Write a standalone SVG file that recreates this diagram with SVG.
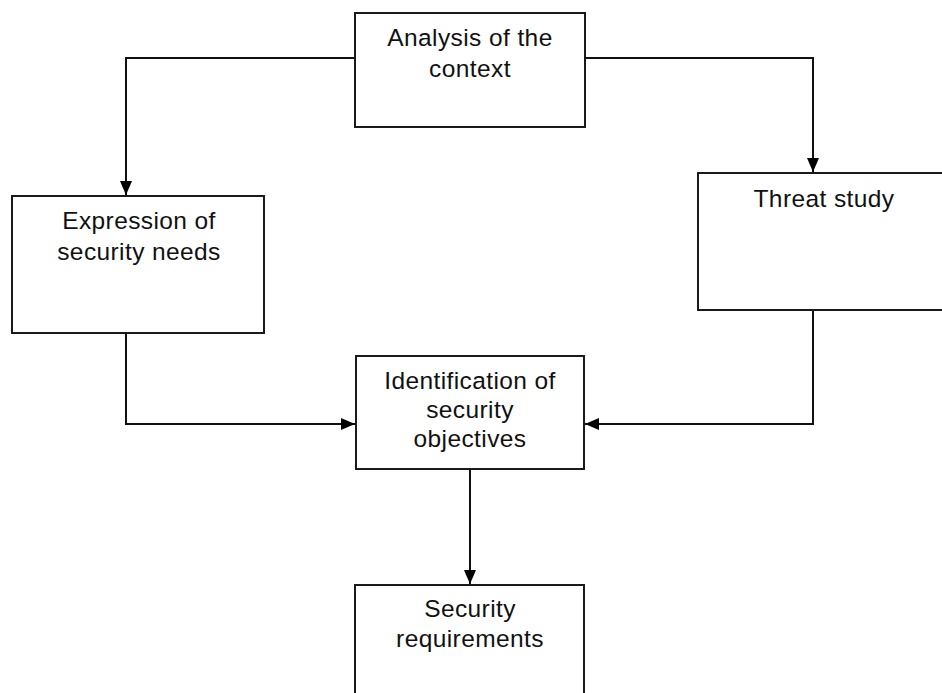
<svg xmlns="http://www.w3.org/2000/svg" width="942" height="693" viewBox="0 0 942 693">
  <style>
    .box { fill: #ffffff; stroke: #1a1a1a; stroke-width: 2; }
    .lbl { font-family: "Liberation Sans", Arial, sans-serif; font-size: 24.5px; fill: #111111; text-anchor: middle; letter-spacing: 0.4px; }
    .wire { fill: none; stroke: #111111; stroke-width: 2; }
  </style>
  <defs>
    <marker id="arrow" viewBox="0 0 14 12" refX="14" refY="6" markerWidth="14" markerHeight="12" markerUnits="userSpaceOnUse" orient="auto">
      <path d="M0,0 L14,6 L0,12 Z" fill="#000000"/>
    </marker>
  </defs>
  <rect width="942" height="693" fill="#ffffff"/>

  <g id="connectors">
    <path class="wire" d="M355,58 H126 V195" marker-end="url(#arrow)"/>
    <path class="wire" d="M585,58 H813 V172" marker-end="url(#arrow)"/>
    <path class="wire" d="M126,333 V424 H355" marker-end="url(#arrow)"/>
    <path class="wire" d="M813,310 V424 H585" marker-end="url(#arrow)"/>
    <path class="wire" d="M470,469 V584" marker-end="url(#arrow)"/>
  </g>

  <g id="analysis">
    <rect class="box" x="355" y="13" width="230" height="114"/>
    <text class="lbl" x="470" y="46">Analysis of the</text>
    <text class="lbl" x="470" y="77">context</text>
  </g>

  <g id="expression">
    <rect class="box" x="12" y="196" width="252" height="137"/>
    <text class="lbl" x="139" y="229">Expression of</text>
    <text class="lbl" x="139" y="260">security needs</text>
  </g>

  <g id="threat">
    <rect class="box" x="698" y="173" width="260" height="137"/>
    <text class="lbl" x="824" y="207">Threat study</text>
  </g>

  <g id="identification">
    <rect class="box" x="356" y="356" width="228" height="113"/>
    <text class="lbl" x="470" y="389">Identification of</text>
    <text class="lbl" x="470" y="418">security</text>
    <text class="lbl" x="470" y="447">objectives</text>
  </g>

  <g id="requirements">
    <rect class="box" x="355" y="585" width="229" height="130"/>
    <text class="lbl" x="470" y="617">Security</text>
    <text class="lbl" x="470" y="647">requirements</text>
  </g>
</svg>
